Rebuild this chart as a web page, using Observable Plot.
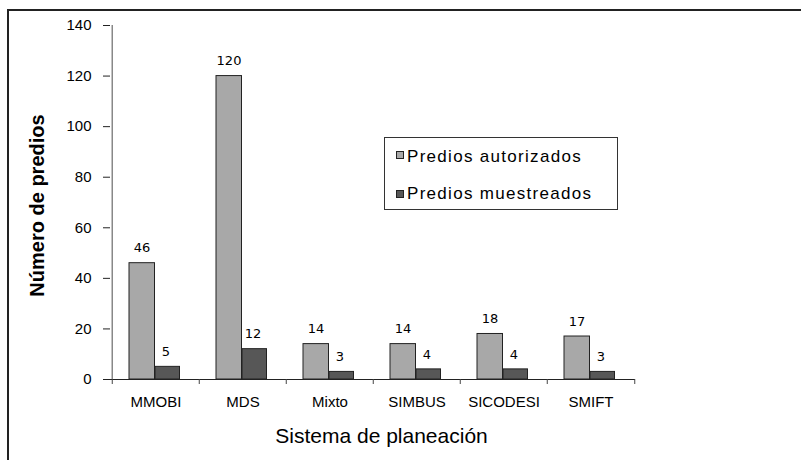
<!DOCTYPE html>
<html>
<head>
<meta charset="utf-8">
<script src="https://cdn.jsdelivr.net/npm/d3@7"></script>
<script src="https://cdn.jsdelivr.net/npm/@observablehq/plot@0.6"></script>
<style>
  body { margin: 0; background: #fff; }
  #wrap { position: relative; width: 801px; height: 460px; overflow: hidden; background: #fff; }
  #frame { position: absolute; left: 7px; top: 9px; width: 900px; height: 600px; border-top: 2px solid #222; border-left: 2px solid #222; }
  #legend { position: absolute; left: 384px; top: 137px; width: 232px; height: 71px; border: 1px solid #333; background: #fff;
            font-family: 'Liberation Sans', Arial, sans-serif; font-size: 17px; letter-spacing: 1.3px; color: #000; }
  .sw { position: absolute; width: 6px; height: 6px; border: 1px solid #222; }
  .lt { position: absolute; left: 22px; line-height: 1; white-space: nowrap; }
  #chart { position: absolute; left: 0; top: 0; }
</style>
</head>
<body>
<div id="wrap">
  <div id="frame"></div>
  <div id="chart"></div>
  <div id="legend"></div>
</div>
<script>
const categories = ["MMOBI", "MDS", "Mixto", "SIMBUS", "SICODESI", "SMIFT"];
const autorizados = [46, 120, 14, 14, 18, 17];
const muestreados = [5, 12, 3, 4, 4, 3];
const yTicks = [0, 20, 40, 60, 80, 100, 120, 140];
const seriesNames = ["Predios autorizados", "Predios muestreados"];
const seriesColors = ["#a8a8a8", "#575757"];
const yTitle = "Número de predios";
const xTitle = "Sistema de planeación";

const W = 801, H = 460;
const mL = 110, mR = 166, mT = 25, mB = 81;
const bw = (W - mL - mR) / categories.length;

const rows = categories.map((c, i) => ({category: c, autorizados: autorizados[i], muestreados: muestreados[i]}));

const chart = Plot.plot({
  width: W, height: H,
  marginLeft: mL, marginRight: mR, marginTop: mT, marginBottom: mB,
  style: {fontFamily: "'Liberation Sans', Arial, sans-serif", background: "transparent", color: "#000", overflow: "visible"},
  x: {type: "band", domain: categories, padding: 0, label: null},
  y: {domain: [0, 140], label: null},
  marks: [
    Plot.ruleX([categories[0]], {x: d => d, dx: -bw / 2, stroke: "#888", strokeWidth: 1.5}),
    Plot.axisY({ticks: yTicks, tickSize: 7, tickPadding: 12, fontSize: 15, label: null, stroke: "#222"}),
    Plot.barY(rows, {x: "category", y: "autorizados", fill: seriesColors[0], stroke: "#222", strokeWidth: 1, insetLeft: 17, insetRight: 44.5}),
    Plot.barY(rows, {x: "category", y: "muestreados", fill: seriesColors[1], stroke: "#222", strokeWidth: 1, insetLeft: 43, insetRight: 19.5}),
    Plot.ruleY([0], {stroke: "#222", strokeWidth: 1.2, insetLeft: -7}),
    Plot.axisX({ticks: categories, tickSize: 5, tickFormat: () => "", dx: -bw / 2, label: null, stroke: "#444"}),
    Plot.axisX({ticks: [categories[categories.length - 1]], tickSize: 5, tickFormat: () => "", dx: bw / 2, label: null, stroke: "#444"}),
    Plot.axisX({tickSize: 0, tickPadding: 16.5, fontSize: 15, label: null}),
    Plot.text(rows, {x: "category", y: "autorizados", text: d => String(d.autorizados), dx: -14, dy: -15, fontFamily: "'DejaVu Sans', sans-serif", fontSize: 13, fill: "#000"}),
    Plot.text(rows, {x: "category", y: "muestreados", text: d => String(d.muestreados), dx: 10, dy: -15, fontFamily: "'DejaVu Sans', sans-serif", fontSize: 13, fill: "#000"}),
    Plot.text([yTitle], {frameAnchor: "left", textAnchor: "middle", rotate: -90, dx: -67, dy: 3, lineAnchor: "bottom", fontWeight: "bold", fontSize: 20, fill: "#000"}),
    Plot.text([xTitle], {frameAnchor: "bottom", dx: 8.5, dy: 63, lineAnchor: "bottom", fontSize: 21, fill: "#000"})
  ]
});
document.getElementById("chart").appendChild(chart);

// legend
const legend = document.getElementById("legend");
const swTops = [13, 52];
const txtTops = [10, 47];
seriesNames.forEach((name, i) => {
  const sw = document.createElement("div");
  sw.className = "sw";
  sw.style.left = "11px";
  sw.style.top = swTops[i] + "px";
  sw.style.background = seriesColors[i];
  legend.appendChild(sw);
  const t = document.createElement("div");
  t.className = "lt";
  t.style.top = txtTops[i] + "px";
  t.textContent = name;
  legend.appendChild(t);
});
</script>
</body>
</html>
